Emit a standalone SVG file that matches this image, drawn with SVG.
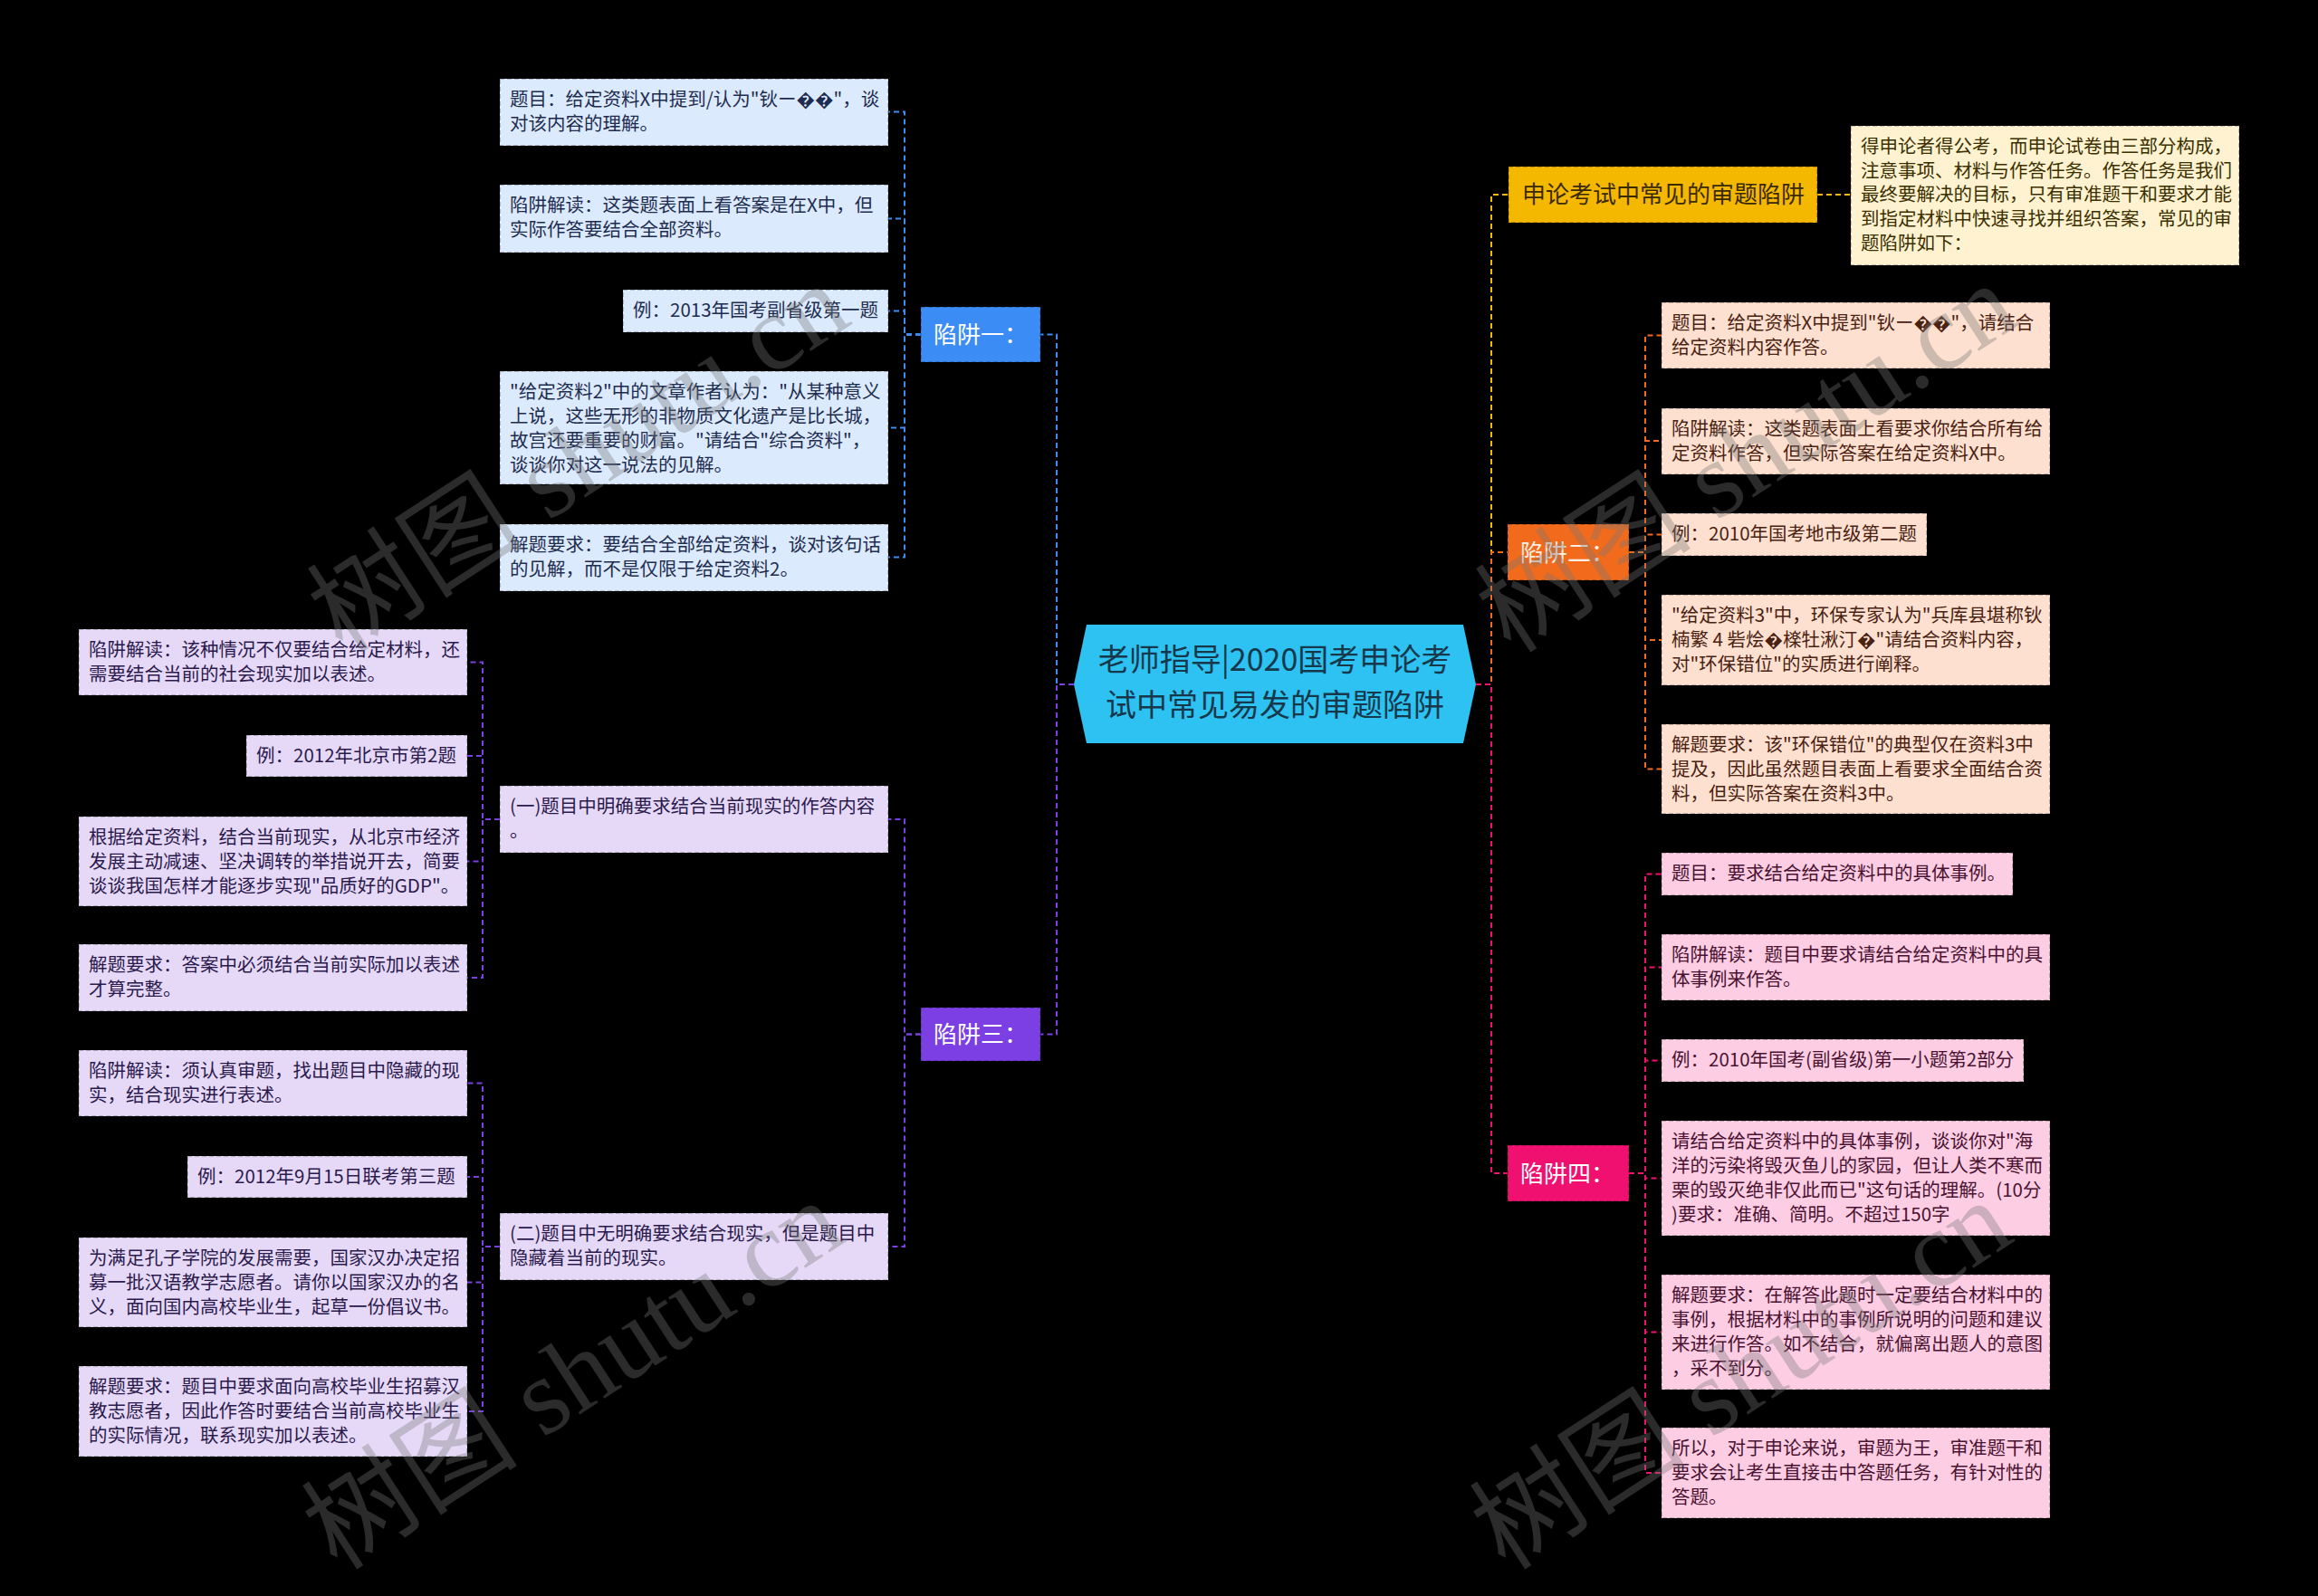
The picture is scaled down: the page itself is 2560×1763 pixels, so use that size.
<svg xmlns="http://www.w3.org/2000/svg" width="2560" height="1763" viewBox="0 0 2560 1763">
<style>
.t{font-family:"Noto Sans CJK SC","Noto Sans",sans-serif;font-size:20.5px}
.g{font-family:"Noto Sans CJK SC","Noto Sans",sans-serif;font-size:26px;fill:#ffffff}
.r{font-family:"Noto Sans CJK SC","Noto Sans",sans-serif;font-size:34px;fill:#16384A}
.box{stroke:#000;stroke-opacity:0.28;stroke-width:1.5;stroke-dasharray:5 3}
.blue rect{fill:#DCEAFD}.blue text{fill:#1E2D4F}
.purp rect{fill:#E6D9F8}.purp text{fill:#2B1A4C}
.oran rect{fill:#FDE0CF}.oran text{fill:#4A2212}
.pink rect{fill:#FCCDE3}.pink text{fill:#4A1231}
.yel rect{fill:#FFF2D0}.yel text{fill:#3A3000}
.c{fill:none;stroke-width:2;stroke-dasharray:6 4}
.wm{font-family:"Liberation Serif","Noto Sans CJK SC",serif;font-size:120px;fill:#777;fill-opacity:0.36}
</style>
<rect x="0" y="0" width="2560" height="1763" fill="#000"/>

<g id="connectors">
<path class="c" stroke="#3B8CF5" d="M1186,756 H1167 V369.5 H1149"/>
<path class="c" stroke="#7B3FE4" d="M1186,756 H1167 V1142.5 H1149"/>
<g stroke="#3B8CF5">
<path class="c" d="M1017,369.5 H999 V123.5 H981"/>
<path class="c" d="M1017,369.5 H999 V241.5 H981"/>
<path class="c" d="M1017,369.5 H999 V343.5 H981"/>
<path class="c" d="M1017,369.5 H999 V472.5 H981"/>
<path class="c" d="M1017,369.5 H999 V615.5 H981"/>
</g>
<g stroke="#7B3FE4">
<path class="c" d="M1017,1142.5 H999 V905 H981"/>
<path class="c" d="M1017,1142.5 H999 V1377 H981"/>
<path class="c" d="M552,905 H533 V731.5 H516"/>
<path class="c" d="M552,905 H533 V835 H516"/>
<path class="c" d="M552,905 H533 V951.5 H516"/>
<path class="c" d="M552,905 H533 V1080 H516"/>
<path class="c" d="M552,1377 H533 V1196.5 H516"/>
<path class="c" d="M552,1377 H533 V1300 H516"/>
<path class="c" d="M552,1377 H533 V1416.5 H516"/>
<path class="c" d="M552,1377 H533 V1559 H516"/>
</g>
<path class="c" stroke="#F5B800" d="M1630,756 H1647 V215 H1666"/>
<path class="c" stroke="#F5B800" d="M2007,215 H2044"/>
<path class="c" stroke="#F26A1B" d="M1630,756 H1647 V610 H1665"/>
<path class="c" stroke="#F0106F" d="M1630,756 H1647 V1296 H1665"/>
<g stroke="#F26A1B">
<path class="c" d="M1799,610 H1817 V370.5 H1835"/>
<path class="c" d="M1799,610 H1817 V487 H1835"/>
<path class="c" d="M1799,610 H1817 V590.5 H1835"/>
<path class="c" d="M1799,610 H1817 V707 H1835"/>
<path class="c" d="M1799,610 H1817 V849.5 H1835"/>
</g>
<g stroke="#F0106F">
<path class="c" d="M1799,1296 H1817 V965.5 H1835"/>
<path class="c" d="M1799,1296 H1817 V1068.5 H1835"/>
<path class="c" d="M1799,1296 H1817 V1171.5 H1835"/>
<path class="c" d="M1799,1296 H1817 V1301.5 H1835"/>
<path class="c" d="M1799,1296 H1817 V1471.5 H1835"/>
<path class="c" d="M1799,1296 H1817 V1627 H1835"/>
</g>
</g>

<g id="root">
<polygon points="1200,690 1616,690 1630,756 1616,821 1200,821 1186,756" fill="#2DC2F2"/>
<text class="r" x="1408" y="741" text-anchor="middle">老师指导|2020国考申论考</text>
<text class="r" x="1408" y="791" text-anchor="middle">试中常见易发的审题陷阱</text>
</g>

<g id="trap1">
<rect class="box" x="1017" y="339" width="132" height="61" fill="#3B8CF5"/>
<text class="g" x="1031" y="379">陷阱一：</text>
</g>
<g id="trap3">
<rect class="box" x="1017" y="1113" width="132" height="59" fill="#7B3FE4"/>
<text class="g" x="1031" y="1152">陷阱三：</text>
</g>
<g id="trap2">
<rect class="box" x="1665" y="579" width="134" height="62" fill="#F26A1B"/>
<text class="g" x="1679" y="620" style="fill:#FFEFE4">陷阱二：</text>
</g>
<g id="trap4">
<rect class="box" x="1665" y="1265" width="134" height="62" fill="#F0106F"/>
<text class="g" x="1679" y="1306">陷阱四：</text>
</g>
<g id="common">
<rect class="box" x="1666" y="184" width="341" height="62" fill="#F5B800"/>
<text x="1681" y="224" style="font-family:'Noto Sans CJK SC','Noto Sans',sans-serif;font-size:26px;fill:#3A2A00">申论考试中常见的审题陷阱</text>
</g>

<g id="desc" class="yel">
<rect class="box" x="2044" y="139" width="429" height="154"/>
<text class="t" x="2055" y="169">得申论者得公考，而申论试卷由三部分构成，</text>
<text class="t" x="2055" y="196">注意事项、材料与作答任务。作答任务是我们</text>
<text class="t" x="2055" y="222">最终要解决的目标，只有审准题干和要求才能</text>
<text class="t" x="2055" y="249">到指定材料中快速寻找并组织答案，常见的审</text>
<text class="t" x="2055" y="276">题陷阱如下：</text>
</g>

<g id="b1" class="blue">
<rect class="box" x="552" y="87" width="429" height="74"/>
<text class="t" x="563" y="117">题目：给定资料X中提到/认为"钬ー��"，谈</text>
<text class="t" x="563" y="144">对该内容的理解。</text>
</g>
<g id="b2" class="blue">
<rect class="box" x="552" y="204" width="429" height="75"/>
<text class="t" x="563" y="234">陷阱解读：这类题表面上看答案是在X中，但</text>
<text class="t" x="563" y="261">实际作答要结合全部资料。</text>
</g>
<g id="b3" class="blue">
<rect class="box" x="688" y="320" width="293" height="47"/>
<text class="t" x="699" y="350">例：2013年国考副省级第一题</text>
</g>
<g id="b4" class="blue">
<rect class="box" x="552" y="410" width="429" height="125"/>
<text class="t" x="563" y="440">"给定资料2"中的文章作者认为："从某种意义</text>
<text class="t" x="563" y="467">上说，这些无形的非物质文化遗产是比长城，</text>
<text class="t" x="563" y="494">故宫还要重要的财富。"请结合"综合资料"，</text>
<text class="t" x="563" y="521">谈谈你对这一说法的见解。</text>
</g>
<g id="b5" class="blue">
<rect class="box" x="552" y="579" width="429" height="74"/>
<text class="t" x="563" y="609">解题要求：要结合全部给定资料，谈对该句话</text>
<text class="t" x="563" y="636">的见解，而不是仅限于给定资料2。</text>
</g>

<g id="p1" class="purp">
<rect class="box" x="552" y="868" width="429" height="74"/>
<text class="t" x="563" y="898">(一)题目中明确要求结合当前现实的作答内容</text>
<text class="t" x="563" y="925">。</text>
</g>
<g id="p2" class="purp">
<rect class="box" x="552" y="1340" width="429" height="74"/>
<text class="t" x="563" y="1370">(二)题目中无明确要求结合现实，但是题目中</text>
<text class="t" x="563" y="1397">隐藏着当前的现实。</text>
</g>

<g id="l1" class="purp">
<rect class="box" x="87" y="695" width="429" height="73"/>
<text class="t" x="98" y="725">陷阱解读：该种情况不仅要结合给定材料，还</text>
<text class="t" x="98" y="752">需要结合当前的社会现实加以表述。</text>
</g>
<g id="l2" class="purp">
<rect class="box" x="272" y="812" width="244" height="46"/>
<text class="t" x="283" y="842">例：2012年北京市第2题</text>
</g>
<g id="l3" class="purp">
<rect class="box" x="87" y="902" width="429" height="99"/>
<text class="t" x="98" y="932">根据给定资料，结合当前现实，从北京市经济</text>
<text class="t" x="98" y="959">发展主动减速、坚决调转的举措说开去，简要</text>
<text class="t" x="98" y="986">谈谈我国怎样才能逐步实现"品质好的GDP"。</text>
</g>
<g id="l4" class="purp">
<rect class="box" x="87" y="1043" width="429" height="74"/>
<text class="t" x="98" y="1073">解题要求：答案中必须结合当前实际加以表述</text>
<text class="t" x="98" y="1100">才算完整。</text>
</g>

<g id="m1" class="purp">
<rect class="box" x="87" y="1160" width="429" height="73"/>
<text class="t" x="98" y="1190">陷阱解读：须认真审题，找出题目中隐藏的现</text>
<text class="t" x="98" y="1217">实，结合现实进行表述。</text>
</g>
<g id="m2" class="purp">
<rect class="box" x="207" y="1277" width="309" height="46"/>
<text class="t" x="218" y="1307">例：2012年9月15日联考第三题</text>
</g>
<g id="m3" class="purp">
<rect class="box" x="87" y="1367" width="429" height="99"/>
<text class="t" x="98" y="1397">为满足孔子学院的发展需要，国家汉办决定招</text>
<text class="t" x="98" y="1424">募一批汉语教学志愿者。请你以国家汉办的名</text>
<text class="t" x="98" y="1451">义，面向国内高校毕业生，起草一份倡议书。</text>
</g>
<g id="m4" class="purp">
<rect class="box" x="87" y="1509" width="429" height="100"/>
<text class="t" x="98" y="1539">解题要求：题目中要求面向高校毕业生招募汉</text>
<text class="t" x="98" y="1566">教志愿者，因此作答时要结合当前高校毕业生</text>
<text class="t" x="98" y="1593">的实际情况，联系现实加以表述。</text>
</g>

<g id="o1" class="oran">
<rect class="box" x="1835" y="334" width="429" height="73"/>
<text class="t" x="1846" y="364">题目：给定资料X中提到"钬ー��"，请结合</text>
<text class="t" x="1846" y="391">给定资料内容作答。</text>
</g>
<g id="o2" class="oran">
<rect class="box" x="1835" y="451" width="429" height="73"/>
<text class="t" x="1846" y="481">陷阱解读：这类题表面上看要求你结合所有给</text>
<text class="t" x="1846" y="508">定资料作答，但实际答案在给定资料X中。</text>
</g>
<g id="o3" class="oran">
<rect class="box" x="1835" y="567" width="293" height="47"/>
<text class="t" x="1846" y="597">例：2010年国考地市级第二题</text>
</g>
<g id="o4" class="oran">
<rect class="box" x="1835" y="657" width="429" height="100"/>
<text class="t" x="1846" y="687">"给定资料3"中，环保专家认为"兵库县堪称钬</text>
<text class="t" x="1846" y="714">楠繁 4 砦烩�檪牡湫汀�"请结合资料内容，</text>
<text class="t" x="1846" y="741">对"环保错位"的实质进行阐释。</text>
</g>
<g id="o5" class="oran">
<rect class="box" x="1835" y="800" width="429" height="99"/>
<text class="t" x="1846" y="830">解题要求：该"环保错位"的典型仅在资料3中</text>
<text class="t" x="1846" y="857">提及，因此虽然题目表面上看要求全面结合资</text>
<text class="t" x="1846" y="884">料，但实际答案在资料3中。</text>
</g>

<g id="q1" class="pink">
<rect class="box" x="1835" y="942" width="388" height="47"/>
<text class="t" x="1846" y="972">题目：要求结合给定资料中的具体事例。</text>
</g>
<g id="q2" class="pink">
<rect class="box" x="1835" y="1032" width="429" height="73"/>
<text class="t" x="1846" y="1062">陷阱解读：题目中要求请结合给定资料中的具</text>
<text class="t" x="1846" y="1089">体事例来作答。</text>
</g>
<g id="q3" class="pink">
<rect class="box" x="1835" y="1148" width="400" height="47"/>
<text class="t" x="1846" y="1178">例：2010年国考(副省级)第一小题第2部分</text>
</g>
<g id="q4" class="pink">
<rect class="box" x="1835" y="1238" width="429" height="127"/>
<text class="t" x="1846" y="1268">请结合给定资料中的具体事例，谈谈你对"海</text>
<text class="t" x="1846" y="1295">洋的污染将毁灭鱼儿的家园，但让人类不寒而</text>
<text class="t" x="1846" y="1322">栗的毁灭绝非仅此而已"这句话的理解。(10分</text>
<text class="t" x="1846" y="1349">)要求：准确、简明。不超过150字</text>
</g>
<g id="q5" class="pink">
<rect class="box" x="1835" y="1408" width="429" height="127"/>
<text class="t" x="1846" y="1438">解题要求：在解答此题时一定要结合材料中的</text>
<text class="t" x="1846" y="1465">事例，根据材料中的事例所说明的问题和建议</text>
<text class="t" x="1846" y="1492">来进行作答。如不结合，就偏离出题人的意图</text>
<text class="t" x="1846" y="1519">，采不到分。</text>
</g>
<g id="q6" class="pink">
<rect class="box" x="1835" y="1577" width="429" height="100"/>
<text class="t" x="1846" y="1607">所以，对于申论来说，审题为王，审准题干和</text>
<text class="t" x="1846" y="1634">要求会让考生直接击中答题任务，有针对性的</text>
<text class="t" x="1846" y="1661">答题。</text>
</g>

<g id="watermarks">
<text class="wm" x="0" y="0" text-anchor="middle" transform="translate(661,540) rotate(-33)">树图 shutu.cn</text>
<text class="wm" x="0" y="0" text-anchor="middle" transform="translate(655,1553) rotate(-33)">树图 shutu.cn</text>
<text class="wm" x="0" y="0" text-anchor="middle" transform="translate(1951,540) rotate(-33)">树图 shutu.cn</text>
<text class="wm" x="0" y="0" text-anchor="middle" transform="translate(1945,1553) rotate(-33)">树图 shutu.cn</text>
</g>
</svg>
